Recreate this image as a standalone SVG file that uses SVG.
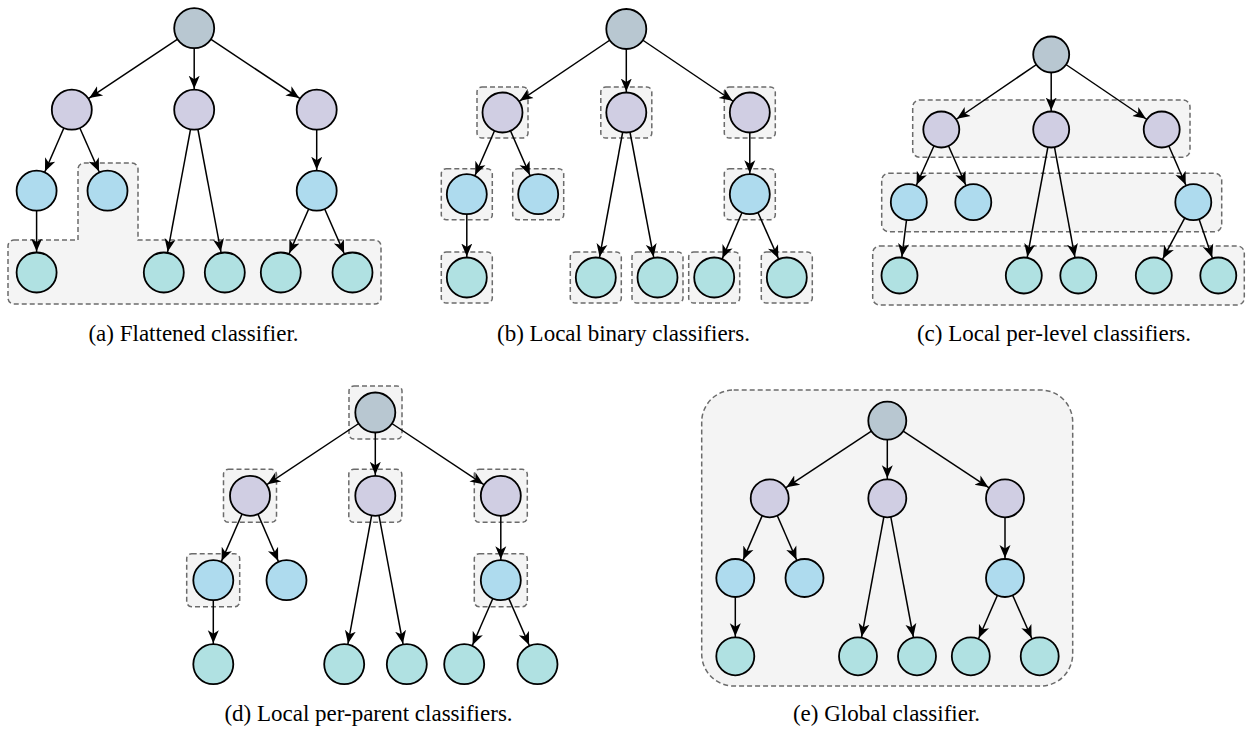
<svg xmlns="http://www.w3.org/2000/svg" width="1257" height="729" viewBox="0 0 1257 729">
<style>
.bg{fill:#ffffff}
.box{fill:#f4f4f4;stroke:#6b6b6b;stroke-width:1.5;stroke-dasharray:5 3}
.e{stroke:#000;stroke-width:1.5;fill:none;marker-end:url(#arr)}
.ec{stroke:#000;stroke-width:1.5;fill:none;marker-end:url(#arrC)}
.ee{stroke:#000;stroke-width:1.5;fill:none;marker-end:url(#arrE)}
circle{stroke:#000;stroke-width:1.8}
.r0{fill:#b8c7d1}
.r1{fill:#d0cee3}
.r2{fill:#aedbee}
.r3{fill:#b0e1e2}
.cap{font-family:'Liberation Serif','Times New Roman',serif;font-size:23px;fill:#000;text-anchor:middle}
</style>
<defs>
<marker id="arr" viewBox="0 -7 44 14" markerWidth="44" markerHeight="14" refX="34" refY="0" orient="auto" markerUnits="userSpaceOnUse"><path d="M0,-5.5 L13,0 L0,5.5 L3.5,0 Z" fill="#000"/></marker>
<marker id="arrC" viewBox="0 -7 44 14" markerWidth="44" markerHeight="14" refX="32" refY="0" orient="auto" markerUnits="userSpaceOnUse"><path d="M0,-5.5 L13,0 L0,5.5 L3.5,0 Z" fill="#000"/></marker>
<marker id="arrE" viewBox="0 -7 44 14" markerWidth="44" markerHeight="14" refX="33" refY="0" orient="auto" markerUnits="userSpaceOnUse"><path d="M0,-5.5 L13,0 L0,5.5 L3.5,0 Z" fill="#000"/></marker>
</defs>
<rect class="bg" x="0" y="0" width="1257" height="729"/>

<!-- classifier regions -->
<g id="regions">
  <g id="a-region"><path class="box" d="M14,240 L78,240 L78,169 A6,6 0 0 1 84,163 L132,163 A6,6 0 0 1 138,169 L138,240 L375,240 A6,6 0 0 1 381,246 L381,298 A6,6 0 0 1 375,304 L14,304 A6,6 0 0 1 8,298 L8,246 A6,6 0 0 1 14,240 Z"/></g>
  <g id="b-regions">
    <rect class="box" x="477" y="87" width="51" height="51" rx="5"/>
    <rect class="box" x="600.8" y="87" width="51" height="51" rx="5"/>
    <rect class="box" x="724.3" y="87" width="51" height="51" rx="5"/>
    <rect class="box" x="441.3" y="168.7" width="51" height="51" rx="5"/>
    <rect class="box" x="512.7" y="168.7" width="51" height="51" rx="5"/>
    <rect class="box" x="724.3" y="168.7" width="51" height="51" rx="5"/>
    <rect class="box" x="441.3" y="252" width="51" height="51" rx="5"/>
    <rect class="box" x="570.3" y="252" width="51" height="51" rx="5"/>
    <rect class="box" x="632" y="252" width="51" height="51" rx="5"/>
    <rect class="box" x="688.7" y="252" width="51" height="51" rx="5"/>
    <rect class="box" x="761.3" y="252" width="51" height="51" rx="5"/>
  </g>
  <g id="c-regions">
    <rect class="box" x="912.7" y="100" width="277.3" height="57.3" rx="7"/>
    <rect class="box" x="881.7" y="173.3" width="340" height="58.4" rx="7"/>
    <rect class="box" x="872.7" y="246" width="371.6" height="59" rx="7"/>
  </g>
  <g id="d-regions">
    <rect class="box" x="349" y="386" width="53" height="53" rx="5"/>
    <rect class="box" x="223.5" y="469.3" width="53" height="53" rx="5"/>
    <rect class="box" x="348.8" y="469.3" width="53" height="53" rx="5"/>
    <rect class="box" x="474.3" y="469.3" width="53" height="53" rx="5"/>
    <rect class="box" x="186.7" y="553.7" width="53" height="53" rx="5"/>
    <rect class="box" x="474.3" y="553.7" width="53" height="53" rx="5"/>
  </g>
  <g id="e-region"><rect class="box" x="701.7" y="390" width="371" height="296" rx="32"/></g>
</g>

<g id="connectors">
  <!-- (a) -->
  <line class="e" x1="194.2" y1="28.2" x2="71.8" y2="109.7"/>
  <line class="e" x1="194.2" y1="28.2" x2="194.2" y2="109.7"/>
  <line class="e" x1="194.2" y1="28.2" x2="316.7" y2="109.7"/>
  <line class="e" x1="71.8" y1="109.7" x2="36.6" y2="190.7"/>
  <line class="e" x1="71.8" y1="109.7" x2="107.5" y2="190.7"/>
  <line class="e" x1="194.2" y1="109.7" x2="163.8" y2="272.5"/>
  <line class="e" x1="194.2" y1="109.7" x2="224.8" y2="272.5"/>
  <line class="e" x1="316.7" y1="109.7" x2="316.7" y2="190.7"/>
  <line class="e" x1="36.6" y1="190.7" x2="36.6" y2="272.5"/>
  <line class="e" x1="316.7" y1="190.7" x2="280.8" y2="272.5"/>
  <line class="e" x1="316.7" y1="190.7" x2="352.5" y2="272.5"/>
  <!-- (b) -->
  <line class="e" x1="626.3" y1="29" x2="502.5" y2="112.5"/>
  <line class="e" x1="626.3" y1="29" x2="626.3" y2="112.5"/>
  <line class="e" x1="626.3" y1="29" x2="749.8" y2="112.5"/>
  <line class="e" x1="502.5" y1="112.5" x2="466.8" y2="194.2"/>
  <line class="e" x1="502.5" y1="112.5" x2="538.2" y2="194.2"/>
  <line class="e" x1="626.3" y1="112.5" x2="595.8" y2="277.5"/>
  <line class="e" x1="626.3" y1="112.5" x2="657.5" y2="277.5"/>
  <line class="e" x1="749.8" y1="112.5" x2="749.8" y2="194.2"/>
  <line class="e" x1="466.8" y1="194.2" x2="466.8" y2="277.5"/>
  <line class="e" x1="749.8" y1="194.2" x2="714.2" y2="277.5"/>
  <line class="e" x1="749.8" y1="194.2" x2="786.8" y2="277.5"/>
  <!-- (c) -->
  <line class="ec" x1="1051.2" y1="54.5" x2="941.3" y2="129.5"/>
  <line class="ec" x1="1051.2" y1="54.5" x2="1051.2" y2="129.5"/>
  <line class="ec" x1="1051.2" y1="54.5" x2="1161.7" y2="129.5"/>
  <line class="ec" x1="941.3" y1="129.5" x2="908.8" y2="202.2"/>
  <line class="ec" x1="941.3" y1="129.5" x2="973.3" y2="202.2"/>
  <line class="ec" x1="1051.2" y1="129.5" x2="1023.8" y2="275.5"/>
  <line class="ec" x1="1051.2" y1="129.5" x2="1078.3" y2="275.5"/>
  <line class="ec" x1="1161.7" y1="129.5" x2="1193.3" y2="202.2"/>
  <line class="ec" x1="908.8" y1="202.2" x2="899.5" y2="275.5"/>
  <line class="ec" x1="1193.3" y1="202.2" x2="1153.8" y2="275.5"/>
  <line class="ec" x1="1193.3" y1="202.2" x2="1218.3" y2="275.5"/>
  <!-- (d) -->
  <line class="e" x1="375.3" y1="412.5" x2="250" y2="495.8"/>
  <line class="e" x1="375.3" y1="412.5" x2="375.3" y2="495.8"/>
  <line class="e" x1="375.3" y1="412.5" x2="500.8" y2="495.8"/>
  <line class="e" x1="250" y1="495.8" x2="213.2" y2="580.2"/>
  <line class="e" x1="250" y1="495.8" x2="286.5" y2="580.2"/>
  <line class="e" x1="375.3" y1="495.8" x2="344.2" y2="664.2"/>
  <line class="e" x1="375.3" y1="495.8" x2="406.8" y2="664.2"/>
  <line class="e" x1="500.8" y1="495.8" x2="500.8" y2="580.2"/>
  <line class="e" x1="213.3" y1="580.2" x2="213.3" y2="664.2"/>
  <line class="e" x1="500.8" y1="580.2" x2="464.2" y2="664.2"/>
  <line class="e" x1="500.8" y1="580.2" x2="537.5" y2="664.2"/>
  <!-- (e) -->
  <line class="ee" x1="887.3" y1="420.7" x2="769.7" y2="498.3"/>
  <line class="ee" x1="887.3" y1="420.7" x2="887.3" y2="498.3"/>
  <line class="ee" x1="887.3" y1="420.7" x2="1005" y2="498.3"/>
  <line class="ee" x1="769.7" y1="498.3" x2="735.3" y2="578"/>
  <line class="ee" x1="769.7" y1="498.3" x2="804.5" y2="578"/>
  <line class="ee" x1="887.3" y1="498.3" x2="858" y2="656.3"/>
  <line class="ee" x1="887.3" y1="498.3" x2="917" y2="656.3"/>
  <line class="ee" x1="1005" y1="498.3" x2="1005" y2="578"/>
  <line class="ee" x1="735.3" y1="578" x2="735.3" y2="656.3"/>
  <line class="ee" x1="1005" y1="578" x2="970.8" y2="656.3"/>
  <line class="ee" x1="1005" y1="578" x2="1039.7" y2="656.3"/>
</g>

<!-- (a) nodes -->
<g id="a-root"><circle class="r0" cx="194.2" cy="28.2" r="20"/></g>
<g id="a-l1-1"><circle class="r1" cx="71.8" cy="109.7" r="20"/></g>
<g id="a-l1-2"><circle class="r1" cx="194.2" cy="109.7" r="20"/></g>
<g id="a-l1-3"><circle class="r1" cx="316.7" cy="109.7" r="20"/></g>
<g id="a-l2-1"><circle class="r2" cx="36.6" cy="190.7" r="20"/></g>
<g id="a-l2-2"><circle class="r2" cx="107.5" cy="190.7" r="20"/></g>
<g id="a-l2-3"><circle class="r2" cx="316.7" cy="190.7" r="20"/></g>
<g id="a-l3-1"><circle class="r3" cx="36.6" cy="272.5" r="20"/></g>
<g id="a-l3-2"><circle class="r3" cx="163.8" cy="272.5" r="20"/></g>
<g id="a-l3-3"><circle class="r3" cx="224.8" cy="272.5" r="20"/></g>
<g id="a-l3-4"><circle class="r3" cx="280.8" cy="272.5" r="20"/></g>
<g id="a-l3-5"><circle class="r3" cx="352.5" cy="272.5" r="20"/></g>

<!-- (b) nodes -->
<g id="b-root"><circle class="r0" cx="626.3" cy="29" r="20"/></g>
<g id="b-l1-1"><circle class="r1" cx="502.5" cy="112.5" r="20"/></g>
<g id="b-l1-2"><circle class="r1" cx="626.3" cy="112.5" r="20"/></g>
<g id="b-l1-3"><circle class="r1" cx="749.8" cy="112.5" r="20"/></g>
<g id="b-l2-1"><circle class="r2" cx="466.8" cy="194.2" r="20"/></g>
<g id="b-l2-2"><circle class="r2" cx="538.2" cy="194.2" r="20"/></g>
<g id="b-l2-3"><circle class="r2" cx="749.8" cy="194.2" r="20"/></g>
<g id="b-l3-1"><circle class="r3" cx="466.8" cy="277.5" r="20"/></g>
<g id="b-l3-2"><circle class="r3" cx="595.8" cy="277.5" r="20"/></g>
<g id="b-l3-3"><circle class="r3" cx="657.5" cy="277.5" r="20"/></g>
<g id="b-l3-4"><circle class="r3" cx="714.2" cy="277.5" r="20"/></g>
<g id="b-l3-5"><circle class="r3" cx="786.8" cy="277.5" r="20"/></g>

<!-- (c) nodes -->
<g id="c-root"><circle class="r0" cx="1051.2" cy="54.5" r="18"/></g>
<g id="c-l1-1"><circle class="r1" cx="941.3" cy="129.5" r="18"/></g>
<g id="c-l1-2"><circle class="r1" cx="1051.2" cy="129.5" r="18"/></g>
<g id="c-l1-3"><circle class="r1" cx="1161.7" cy="129.5" r="18"/></g>
<g id="c-l2-1"><circle class="r2" cx="908.8" cy="202.2" r="18"/></g>
<g id="c-l2-2"><circle class="r2" cx="973.3" cy="202.2" r="18"/></g>
<g id="c-l2-3"><circle class="r2" cx="1193.3" cy="202.2" r="18"/></g>
<g id="c-l3-1"><circle class="r3" cx="899.5" cy="275.5" r="18"/></g>
<g id="c-l3-2"><circle class="r3" cx="1023.8" cy="275.5" r="18"/></g>
<g id="c-l3-3"><circle class="r3" cx="1078.3" cy="275.5" r="18"/></g>
<g id="c-l3-4"><circle class="r3" cx="1153.8" cy="275.5" r="18"/></g>
<g id="c-l3-5"><circle class="r3" cx="1218.3" cy="275.5" r="18"/></g>

<!-- (d) nodes -->
<g id="d-root"><circle class="r0" cx="375.3" cy="412.5" r="20"/></g>
<g id="d-l1-1"><circle class="r1" cx="250" cy="495.8" r="20"/></g>
<g id="d-l1-2"><circle class="r1" cx="375.3" cy="495.8" r="20"/></g>
<g id="d-l1-3"><circle class="r1" cx="500.8" cy="495.8" r="20"/></g>
<g id="d-l2-1"><circle class="r2" cx="213.3" cy="580.2" r="20"/></g>
<g id="d-l2-2"><circle class="r2" cx="286.5" cy="580.2" r="20"/></g>
<g id="d-l2-3"><circle class="r2" cx="500.8" cy="580.2" r="20"/></g>
<g id="d-l3-1"><circle class="r3" cx="213.3" cy="664.2" r="20"/></g>
<g id="d-l3-2"><circle class="r3" cx="344.2" cy="664.2" r="20"/></g>
<g id="d-l3-3"><circle class="r3" cx="406.8" cy="664.2" r="20"/></g>
<g id="d-l3-4"><circle class="r3" cx="464.2" cy="664.2" r="20"/></g>
<g id="d-l3-5"><circle class="r3" cx="537.5" cy="664.2" r="20"/></g>

<!-- (e) nodes -->
<g id="e-root"><circle class="r0" cx="887.3" cy="420.7" r="19"/></g>
<g id="e-l1-1"><circle class="r1" cx="769.7" cy="498.3" r="19"/></g>
<g id="e-l1-2"><circle class="r1" cx="887.3" cy="498.3" r="19"/></g>
<g id="e-l1-3"><circle class="r1" cx="1005" cy="498.3" r="19"/></g>
<g id="e-l2-1"><circle class="r2" cx="735.3" cy="578" r="19"/></g>
<g id="e-l2-2"><circle class="r2" cx="804.5" cy="578" r="19"/></g>
<g id="e-l2-3"><circle class="r2" cx="1005" cy="578" r="19"/></g>
<g id="e-l3-1"><circle class="r3" cx="735.3" cy="656.3" r="19"/></g>
<g id="e-l3-2"><circle class="r3" cx="858" cy="656.3" r="19"/></g>
<g id="e-l3-3"><circle class="r3" cx="917" cy="656.3" r="19"/></g>
<g id="e-l3-4"><circle class="r3" cx="970.8" cy="656.3" r="19"/></g>
<g id="e-l3-5"><circle class="r3" cx="1039.7" cy="656.3" r="19"/></g>

<g id="captions" font-family="Liberation Serif, Times New Roman, serif">
  <text class="cap" x="193.5" y="341">(a) Flattened classifier.</text>
  <text class="cap" x="623.5" y="341">(b) Local binary classifiers.</text>
  <text class="cap" x="1054" y="341">(c) Local per-level classifiers.</text>
  <text class="cap" x="368.5" y="721">(d) Local per-parent classifiers.</text>
  <text class="cap" x="886.5" y="721">(e) Global classifier.</text>
</g>
</svg>
